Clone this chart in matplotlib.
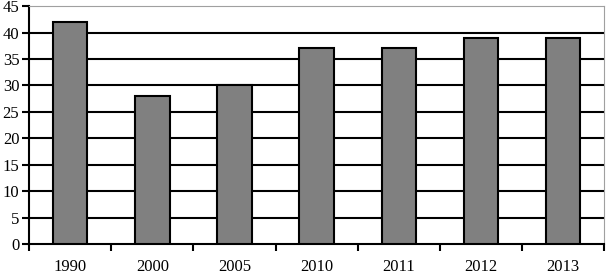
import numpy as np
import matplotlib.pyplot as plt

years = ['1990', '2000', '2005', '2010', '2011', '2012', '2013']
values = [42, 28, 30, 37, 37, 39, 39]

plt.rcParams['font.family'] = ['Liberation Serif', 'DejaVu Serif']

fig = plt.figure(figsize=(6.06, 2.76), dpi=100)
ax = fig.add_axes([0.048, 0.116, 0.949, 0.862])

x = np.arange(len(years))
ax.bar(x, values, width=0.42, color='#808080', edgecolor='black', linewidth=1.5, zorder=3)

ax.set_ylim(0, 45)
ax.set_yticks(np.arange(0, 46, 5))
ax.set_xlim(-0.5, len(years) - 0.5)
for yv in range(5, 45, 5):
    ax.axhline(yv, color='black', linewidth=1.5, zorder=1)

ax.set_xticks(x)
ax.set_xticklabels(years)
ax.tick_params(axis='x', which='major', length=0, pad=10.5, labelsize=12)
ax.set_xticks(np.arange(-0.5, len(years)), minor=True)
ax.tick_params(axis='x', which='minor', length=5, width=1.5, direction='out')
ax.tick_params(axis='y', length=5, width=1.5, labelsize=12, pad=2)

ax.spines['left'].set_linewidth(1.5)
ax.spines['bottom'].set_linewidth(1.5)
ax.spines['top'].set_color('#a0a0a0')
ax.spines['right'].set_color('#a0a0a0')

fig.savefig('out.png', dpi=100)
